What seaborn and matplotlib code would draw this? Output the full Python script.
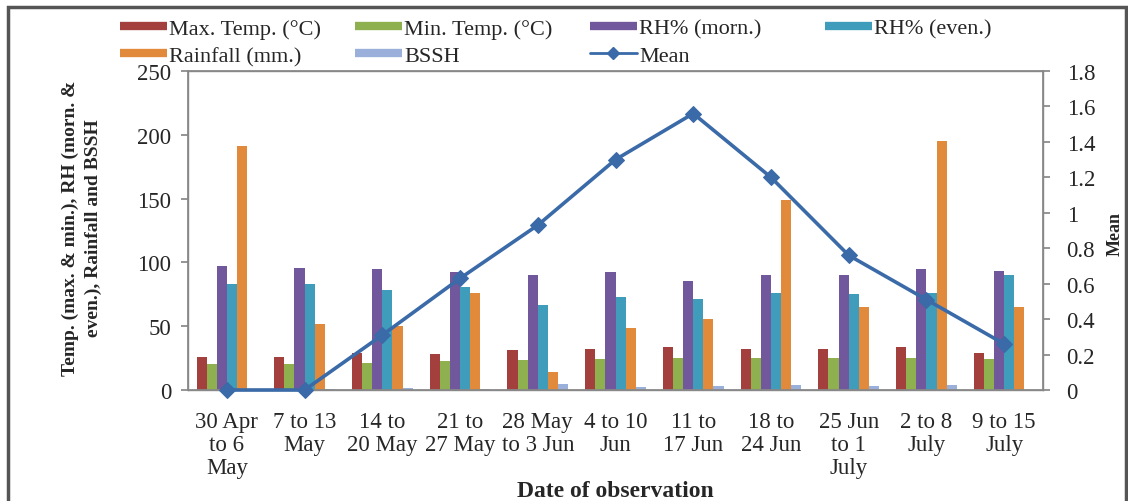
import seaborn as sns
import pandas as pd
import matplotlib.pyplot as plt
from matplotlib.lines import Line2D
from matplotlib.patches import Rectangle
from matplotlib.ticker import FuncFormatter

# weekly weather data and mean values
periods = ['30 Apr\nto 6\nMay', '7 to 13\nMay', '14 to\n20 May', '21 to\n27 May',
           '28 May\nto 3 Jun', '4 to 10\nJun', '11 to\n17 Jun', '18 to\n24 Jun',
           '25 Jun\nto 1\nJuly', '2 to 8\nJuly', '9 to 15\nJuly']
max_temp = [25.8, 25.8, 29.0, 28.6, 31.2, 31.8, 33.6, 32.3, 32.4, 33.7, 28.8]
min_temp = [20.6, 20.0, 21.2, 22.5, 23.4, 24.6, 25.4, 25.2, 24.8, 25.4, 24.2]
rh_morn = [97.5, 95.6, 94.8, 92.5, 89.8, 92.6, 85.7, 89.8, 90.0, 94.8, 93.0]
rh_even = [83.0, 83.3, 78.6, 80.5, 67.0, 73.2, 71.2, 75.8, 75.5, 76.0, 90.0]
rainfall = [191.0, 51.8, 50.0, 75.8, 14.0, 48.7, 55.6, 149.0, 65.2, 195.0, 65.0]
bssh = [0.8, 1.0, 1.3, 0.6, 4.5, 2.6, 3.1, 3.9, 2.8, 4.1, 0.3]
mean_vals = [0, 0, 0.31, 0.63, 0.93, 1.30, 1.56, 1.20, 0.76, 0.51, 0.26]

series_names = ['Max. Temp. (°C)', 'Min. Temp. (°C)', 'RH% (morn.)', 'RH% (even.)',
                'Rainfall (mm.)', 'BSSH']
series_vals = [max_temp, min_temp, rh_morn, rh_even, rainfall, bssh]
colors = ['#A3403D', '#8EB04F', '#71589C', '#3F9CBB', '#E28A3C', '#9AB0DA']
mean_color = '#3A6AA8'

rows = []
for name, vals in zip(series_names, series_vals):
    for p, v in zip(periods, vals):
        rows.append({'period': p, 'series': name, 'value': v})
df = pd.DataFrame(rows)

sns.set_theme(style='white')
plt.rcParams['font.family'] = ['Liberation Serif', 'DejaVu Serif']

fig = plt.figure(figsize=(11.28, 5.02), dpi=100)
ax = fig.add_axes([188 / 1128, 111 / 502, 855 / 1128, 319 / 502])

sns.barplot(data=df, x='period', y='value', hue='series', order=periods,
            hue_order=series_names, palette=colors, width=0.78, gap=0,
            saturation=1, linewidth=0, legend=False, ax=ax)

ax.set_xlim(-0.5, len(periods) - 0.5)
ax.set_ylim(0, 250)
ax.set_yticks(range(0, 251, 50))
ax.set_xticks(range(len(periods)))
ax.set_xticklabels(periods, fontsize=16.5, linespacing=1.12)
ax.set_xticks([i - 0.5 for i in range(len(periods) + 1)], minor=True)
ax.tick_params(axis='x', which='major', length=0, pad=15)
ax.tick_params(axis='x', which='minor', length=5, color='#888888', direction='out')
ax.tick_params(axis='y', length=5, color='#888888', direction='out', labelsize=16.5, pad=7)
ax.tick_params(left=True, bottom=True)
for s in ax.spines.values():
    s.set_color('#888888')
    s.set_linewidth(1)

ax.set_ylabel('Temp. (max. & min.), RH (morn. &\neven.), Rainfall and BSSH',
              fontsize=14, fontweight='bold', linespacing=1.45)
ax.yaxis.set_label_coords(-0.1, 0.51)
ax.set_xlabel('Date of observation', fontsize=17, fontweight='bold')
ax.xaxis.set_label_coords(0.5, -0.333)
ax.xaxis.label.set_va('baseline')

ax2 = ax.twinx()
sns.lineplot(x=list(range(len(periods))), y=mean_vals, ax=ax2, color=mean_color,
             lw=2.6, marker='D', markersize=8, markeredgecolor=mean_color,
             clip_on=False, zorder=5)
ax2.set_ylim(0, 1.8)
ax2.set_yticks([i / 5 for i in range(10)])
ax2.yaxis.set_major_formatter(FuncFormatter(lambda v, p: f'{v:g}'))
ax2.tick_params(axis='y', length=5, color='#888888', direction='out', labelsize=16.5, pad=12)
ax2.tick_params(right=True)
ax2.set_ylabel('Mean', fontsize=13, fontweight='bold')
ax2.yaxis.set_label_coords(1.084, 0.492)
ax2.yaxis.label.set_va('center')
ax2.yaxis.label.set_ha('center')
for s in ax2.spines.values():
    s.set_color('#888888')

# legend laid out as four columns like the original
font = {'size': 16}
cols = [
    (120, [('Max. Temp. (°C)', colors[0]), ('Rainfall (mm.)', colors[4])]),
    (355, [('Min. Temp. (°C)', colors[1]), ('BSSH', colors[5])]),
    (590, [('RH% (morn.)', colors[2]), ('Mean', None)]),
    (825, [('RH% (even.)', colors[3])]),
]
for x0, entries in cols:
    handles, labels = [], []
    for lab, c in entries:
        if c is None:
            handles.append(Line2D([0], [0], color=mean_color, lw=2, marker='D', markersize=6))
        else:
            handles.append(Line2D([0], [0], color=c, lw=6, solid_capstyle='butt'))
        labels.append(lab)
    fig.legend(handles, labels, loc='upper left', bbox_to_anchor=(x0 / 1128, 1 - 19 / 502),
               frameon=False, borderpad=0, borderaxespad=0, handlelength=2.1,
               handletextpad=0.1, labelspacing=0.32, prop=font)

# outer frame of the original picture
fig.patches.append(Rectangle((8 / 1128, -0.1), 1118 / 1128, 1.1 - 8 / 502,
                             transform=fig.transFigure, fill=False,
                             edgecolor='#555555', lw=2.5))

fig.savefig('out.png', dpi=100)
